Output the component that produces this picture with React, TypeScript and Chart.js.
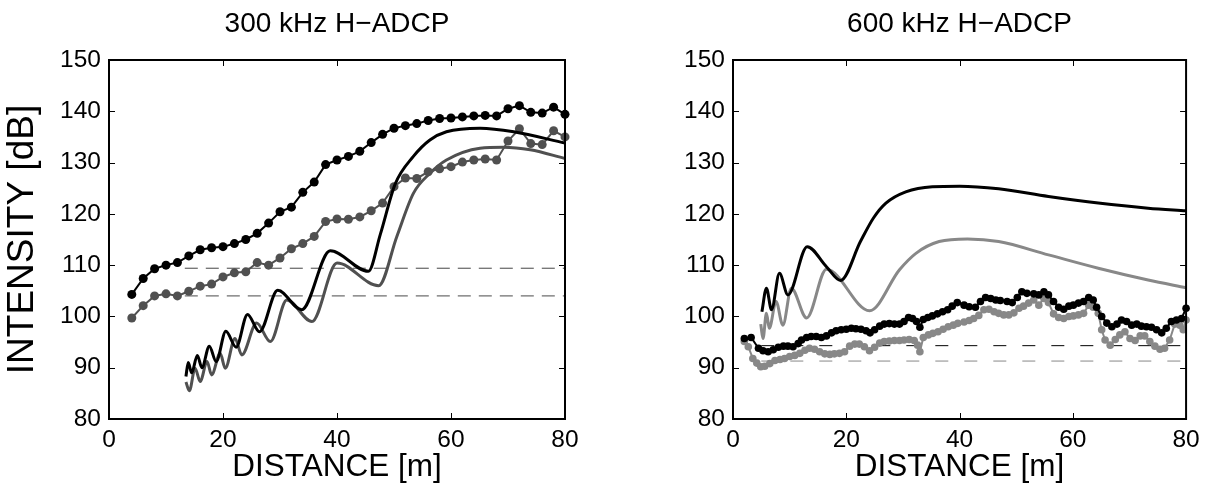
import { useEffect, useRef } from 'react';
import { Chart, registerables } from 'chart.js';

Chart.register(...registerables);

const FONT = "'Liberation Sans', Arial, Helvetica, sans-serif";
const TITLE_300 = '300 kHz H\u2212ADCP';
const TITLE_600 = '600 kHz H\u2212ADCP';
const X_TITLE = 'DISTANCE [m]';
const Y_TITLE = 'INTENSITY [dB]';

// ---------- 300 kHz panel ----------
const distL = [4, 6, 8, 10, 12, 14, 16, 18, 20, 22, 24, 26, 28, 30, 32, 34, 36, 38, 40, 42, 44, 46, 48, 50, 52, 54, 56, 58, 60, 62, 64, 66, 68, 70, 72, 74, 76, 78, 80];
const measBlackL = [104.3, 107.4, 109.3, 110.0, 110.5, 111.8, 113.0, 113.4, 113.6, 114.2, 115.0, 116.2, 118.2, 120.4, 121.3, 124.2, 126.2, 129.6, 130.5, 131.2, 132.2, 133.9, 135.5, 136.7, 137.2, 137.6, 138.2, 138.6, 138.7, 138.9, 139.1, 139.2, 139.1, 140.5, 141.1, 139.8, 139.65, 140.8, 139.4];
const measGrayL = [99.7, 102.1, 104.0, 104.4, 104.0, 104.9, 105.9, 106.3, 107.7, 108.5, 108.7, 110.5, 110.0, 111.4, 113.2, 114.2, 115.6, 118.5, 119.0, 118.95, 119.4, 120.6, 122.1, 125.3, 127.0, 126.9, 128.2, 128.8, 129.2, 130.1, 130.5, 130.7, 130.5, 134.2, 136.6, 133.7, 133.5, 136.2, 135.0];

const modelBlackLX = [13.5, 13.9, 14.5, 15.5, 16.3, 17.6, 18.8, 20.5, 22.3, 24.3, 26.4, 29.6, 33.8, 38.8, 45.5, 47.6, 50.2, 53.4, 56.3, 59.2, 65.1, 71.0, 80];
const modelBlackLY = [88.3, 91.0, 89.0, 92.4, 90.0, 94.2, 91.2, 97.1, 94.0, 100.4, 97.0, 105.1, 101.3, 112.8, 108.8, 116.0, 125.8, 131.2, 134.4, 136.0, 136.7, 136.0, 133.8];
const modelGrayLX = [13.5, 14.1, 15.1, 16.0, 17.2, 18.0, 19.5, 20.4, 22.1, 23.3, 25.9, 28.3, 31.2, 35.6, 40.0, 47.3, 50.5, 53.4, 56.3, 59.2, 65.1, 69.2, 73.9, 80];
const modelGrayLY = [87.2, 85.5, 89.9, 87.3, 91.2, 88.6, 92.8, 89.9, 95.7, 92.5, 98.7, 95.1, 103.2, 99.0, 110.4, 106.0, 115.6, 124.0, 127.9, 130.5, 132.8, 133.0, 132.5, 130.8];

const noiseXL = [13.3, 80];
const noiseBlackL = [109.4, 109.4];
const noiseGrayL = [104.0, 104.0];

// ---------- 600 kHz panel ----------
const distBlackR = [2.0, 3.2, 4.5, 5.3, 6.2, 7.1, 8.0, 8.9, 9.7, 10.6, 11.5, 12.1, 13.0, 13.8, 14.7, 15.6, 16.5, 17.4, 18.2, 19.1, 20.0, 20.9, 21.7, 22.6, 23.5, 24.2, 25.0, 25.9, 26.7, 27.6, 28.5, 29.4, 30.2, 31.0, 31.7, 32.4, 33.0, 33.6, 34.4, 35.2, 36.1, 37.0, 37.9, 38.7, 39.6, 40.8, 41.7, 42.8, 43.7, 44.6, 45.5, 46.4, 47.2, 48.4, 49.3, 50.2, 51.0, 51.9, 53.1, 54.0, 54.9, 55.7, 56.6, 57.5, 58.4, 59.3, 60.1, 61.0, 61.9, 62.8, 63.6, 64.2, 65.1, 66.0, 66.9, 67.8, 68.6, 69.5, 70.4, 71.3, 72.1, 73.0, 73.9, 74.8, 75.7, 76.5, 77.4, 78.3, 79.2, 80.0];
const measBlackR = [95.7, 95.9, 93.8, 93.3, 93.1, 93.5, 94.0, 94.2, 94.2, 94.1, 94.7, 95.4, 95.9, 96.1, 96.1, 95.9, 96.2, 96.8, 97.2, 97.4, 97.5, 97.7, 97.6, 97.5, 97.2, 96.8, 97.4, 98.1, 98.5, 98.6, 98.5, 98.5, 99.0, 99.8, 99.6, 99.0, 97.9, 99.4, 99.8, 100.1, 100.5, 100.9, 101.3, 102.0, 102.7, 102.2, 101.9, 101.8, 102.9, 103.7, 103.5, 103.2, 103.1, 102.9, 102.7, 103.7, 104.8, 104.5, 104.4, 104.2, 104.8, 104.2, 102.9, 101.8, 101.4, 102.0, 102.2, 102.6, 102.9, 103.7, 103.2, 101.8, 100.0, 98.7, 98.0, 98.5, 99.3, 99.0, 98.3, 98.5, 98.1, 98.0, 97.9, 97.4, 96.8, 97.7, 99.0, 99.3, 99.6, 101.6];
const distGrayR = [2.0, 2.7, 3.5, 4.2, 4.9, 5.6, 6.5, 7.4, 8.3, 9.1, 10.0, 10.9, 11.8, 12.7, 13.5, 14.4, 15.3, 16.2, 17.1, 17.9, 18.8, 19.7, 20.6, 21.5, 22.3, 23.2, 24.1, 25.0, 25.9, 26.7, 27.6, 28.5, 29.4, 30.2, 31.1, 32.0, 32.6, 33.0, 33.6, 34.5, 35.3, 36.2, 37.1, 38.0, 38.9, 39.7, 40.8, 41.7, 42.5, 43.4, 44.3, 45.2, 46.1, 46.9, 47.8, 48.7, 49.6, 50.5, 51.3, 52.2, 53.1, 54.0, 54.9, 55.7, 56.6, 57.5, 58.4, 59.3, 60.1, 61.0, 61.9, 62.8, 63.6, 64.5, 65.1, 65.7, 66.6, 67.5, 68.3, 69.2, 70.1, 71.0, 71.9, 72.7, 73.6, 74.5, 75.4, 76.2, 77.1, 78.0, 78.9, 79.5, 80.0];
const measGrayR = [95.1, 94.1, 91.8, 90.9, 90.2, 90.3, 90.8, 91.4, 91.6, 91.8, 92.2, 92.4, 92.8, 93.4, 93.8, 93.6, 93.1, 92.7, 92.6, 92.7, 92.8, 93.1, 94.2, 94.6, 94.6, 94.1, 93.3, 94.0, 94.8, 95.1, 95.2, 95.3, 95.3, 95.4, 95.5, 95.3, 94.4, 93.1, 95.9, 96.4, 96.7, 97.0, 97.5, 98.0, 98.3, 98.65, 98.9, 99.2, 99.6, 100.2, 101.3, 101.4, 100.9, 100.6, 100.3, 100.3, 100.7, 101.6, 102.0, 102.6, 103.2, 102.2, 103.5, 102.7, 100.5, 99.8, 99.6, 100.0, 100.1, 100.3, 100.6, 102.2, 101.8, 100.6, 97.4, 95.4, 94.4, 95.5, 96.4, 97.0, 95.7, 95.3, 96.2, 96.2, 95.1, 94.2, 93.6, 93.8, 95.4, 98.5, 98.3, 97.4, 99.3];

const modelBlackRX = [5.1, 5.9, 6.8, 8.2, 9.7, 13.1, 16.5, 19.0, 22.5, 24.8, 27.0, 30.5, 35.2, 40.0, 46.9, 55.7, 64.5, 73.3, 80];
const modelBlackRY = [100.9, 105.5, 101.3, 108.4, 104.2, 113.6, 109.7, 107.0, 114.6, 119.2, 122.1, 124.3, 125.3, 125.4, 124.9, 123.4, 122.1, 121.1, 120.6];
const modelGrayRX = [4.9, 5.3, 5.9, 6.4, 7.6, 8.8, 10.3, 13.0, 16.5, 24.1, 29.4, 32.3, 36.4, 41.4, 46.9, 55.7, 64.5, 73.3, 80];
const modelGrayRY = [98.5, 95.7, 100.6, 97.7, 102.9, 98.3, 105.5, 99.7, 109.2, 101.1, 109.1, 112.3, 114.6, 115.1, 114.6, 112.0, 109.4, 107.1, 105.6];

const noiseXR = [5.0, 80];
const noiseBlackR = [94.3, 94.3];
const noiseGrayR = [91.3, 91.3];

// ---------- helpers ----------
const pts = (xs: number[], ys: number[]) => xs.map((x, i) => ({ x, y: ys[i] }));

const boxPlugin = {
  id: 'matlabBox',
  afterDatasetsDraw(chart: any) {
    const { ctx, chartArea: a, scales } = chart;
    const xs = scales.x;
    const ys = scales.y;
    const L = 6;
    ctx.save();
    ctx.strokeStyle = '#000';
    ctx.lineWidth = 1;
    ctx.beginPath();
    xs.ticks.forEach((t: any) => {
      const p = Math.round(xs.getPixelForValue(t.value)) + 0.5;
      ctx.moveTo(p, a.bottom);
      ctx.lineTo(p, a.bottom - L);
      ctx.moveTo(p, a.top);
      ctx.lineTo(p, a.top + L);
    });
    ys.ticks.forEach((t: any) => {
      const p = Math.round(ys.getPixelForValue(t.value)) + 0.5;
      ctx.moveTo(a.left, p);
      ctx.lineTo(a.left + L, p);
      ctx.moveTo(a.right, p);
      ctx.lineTo(a.right - L, p);
    });
    ctx.stroke();
    ctx.lineWidth = 2;
    ctx.strokeRect(a.left, a.top, a.right - a.left, a.bottom - a.top);
    ctx.restore();
  },
};

const tickFont = { family: FONT, size: 24.5, weight: 'normal' as const, lineHeight: 1.2 };
const xLabelFont = { family: FONT, size: 31.5, weight: 'normal' as const, lineHeight: 1.2 };
const yLabelFont = { family: FONT, size: 37, weight: 'normal' as const, lineHeight: 1.2 };
const titleFont = { family: FONT, size: 28, weight: 'normal' as const, lineHeight: 1.2 };

function makeConfig(title: string, showYTitle: boolean, yWidth: number, padRight: number, datasets: any[]): any {
  return {
    type: 'scatter',
    data: { datasets },
    options: {
      animation: false,
      responsive: false,
      events: [],
      layout: { padding: { left: 0, right: padRight, top: 0, bottom: 0 } },
      plugins: {
        legend: { display: false },
        tooltip: { enabled: false },
        title: {
          display: true,
          text: title,
          fullSize: false,
          color: '#000',
          font: titleFont,
          padding: { top: 7, bottom: 19.4 },
        },
      },
      scales: {
        x: {
          type: 'linear',
          min: 0,
          max: 80,
          grid: { display: false, drawTicks: false },
          border: { display: false },
          ticks: { stepSize: 20, color: '#000', font: tickFont, padding: 6.3, maxRotation: 0 },
          title: { display: true, text: X_TITLE, color: '#000', font: xLabelFont, padding: { top: 0, bottom: 3 } },
          afterFit: (s: any) => {
            s.height = 70;
          },
        },
        y: {
          type: 'linear',
          min: 80,
          max: 150,
          grid: { display: false, drawTicks: false },
          border: { display: false },
          ticks: { stepSize: 10, color: '#000', font: tickFont, padding: 8 },
          title: { display: showYTitle, text: Y_TITLE, color: '#000', font: yLabelFont, padding: { top: 1, bottom: 0 } },
          afterFit: (s: any) => {
            s.width = yWidth;
          },
        },
      },
    },
    plugins: [boxPlugin],
  };
}

function model(xs: number[], ys: number[], color: string, order: number) {
  return {
    data: pts(xs, ys),
    showLine: true,
    borderColor: color,
    borderWidth: 3,
    pointRadius: 0,
    cubicInterpolationMode: 'monotone',
    clip: false,
    order,
  };
}

function measured(xs: number[], ys: number[], color: string, radius: number, order: number) {
  return {
    data: pts(xs, ys),
    showLine: true,
    borderColor: color,
    borderWidth: 2,
    pointRadius: radius,
    pointBackgroundColor: color,
    pointBorderColor: color,
    pointBorderWidth: 0,
    clip: false,
    order,
  };
}

function dashed(xs: number[], ys: number[], color: string, dash: number[], order: number) {
  return {
    data: pts(xs, ys),
    showLine: true,
    borderColor: color,
    borderWidth: 1,
    borderDash: dash,
    pointRadius: 0,
    order,
  };
}

function Panel({ config, left }: { config: any; left: number }) {
  const ref = useRef<HTMLCanvasElement>(null);
  useEffect(() => {
    if (!ref.current) return;
    const chart = new Chart(ref.current, config);
    return () => chart.destroy();
  }, [config]);
  return (
    <canvas
      ref={ref}
      width={603}
      height={489}
      style={{ position: 'absolute', left, top: 0, width: 603, height: 489 }}
    />
  );
}

const GRAY_L = '#505050';
const GRAY_R = '#888888';

const leftConfig = makeConfig(TITLE_300, true, 109, 38, [
  model(modelBlackLX, modelBlackLY, '#000', 0),
  model(modelGrayLX, modelGrayLY, GRAY_L, 1),
  measured(distL, measBlackL, '#000', 4.5, 2),
  measured(distL, measGrayL, GRAY_L, 4.5, 3),
  dashed(noiseXL, noiseBlackL, '#444', [13, 8], 4),
  dashed(noiseXL, noiseGrayL, '#4a4a4a', [13, 8], 5),
]);

const rightConfig = makeConfig(TITLE_600, false, 130, 18, [
  model(modelBlackRX, modelBlackRY, '#000', 0),
  model(modelGrayRX, modelGrayRY, GRAY_R, 1),
  measured(distBlackR, measBlackR, '#000', 3.8, 2),
  measured(distGrayR, measGrayR, GRAY_R, 3.8, 3),
  dashed(noiseXR, noiseBlackR, '#000', [13, 16], 4),
  dashed(noiseXR, noiseGrayR, GRAY_R, [13, 16], 5),
]);

export default function App() {
  return (
    <div style={{ position: 'fixed', left: 0, top: 0, width: 1206, height: 489, background: '#fff', overflow: 'hidden' }}>
      <Panel config={leftConfig} left={0} />
      <Panel config={rightConfig} left={603} />
    </div>
  );
}
